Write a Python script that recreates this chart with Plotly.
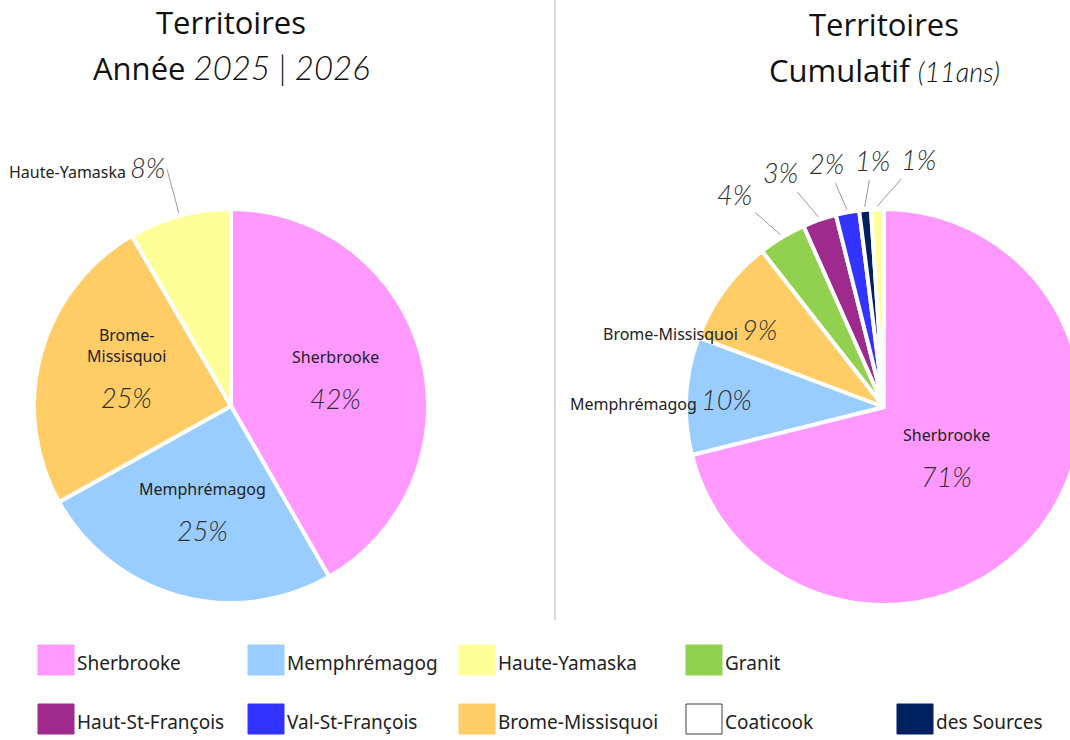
import math
import plotly.graph_objects as go

W, H = 1086, 740   # figure slightly wider than the window: right pie is cut like the reference

# ---------------- data ----------------
categories = ["Sherbrooke", "Memphrémagog", "Haute-Yamaska", "Granit",
              "Haut-St-François", "Val-St-François", "Brome-Missisquoi",
              "Coaticook", "des Sources"]
category_colors = ["#FF99FF", "#99CCFF", "#FFFF99", "#92D050",
                   "#9E2A8E", "#3333FF", "#FFCC66", "#FFFFFF", "#002060"]

year_labels = ["Sherbrooke", "Memphrémagog", "Brome-Missisquoi", "Haute-Yamaska"]
year_values = [41.7, 25.2, 24.7, 8.4]

cumul_labels = ["Sherbrooke", "Memphrémagog", "Brome-Missisquoi", "Granit",
                "Haut-St-François", "Val-St-François", "des Sources", "Haute-Yamaska"]
cumul_values = [71.0, 9.6, 8.7, 3.9, 2.75, 1.9, 0.95, 1.05]

color_of = dict(zip(categories, category_colors))

# ---------------- styling ----------------
NAME_FONT = dict(family="Noto Sans", size=16, color="#222222")
PCT_FONT = dict(family="Lato", size=27, color="#2E2E2E", weight=300, style="italic")
PCT_SPAN = ("<span style='font-family:Lato;font-size:27px;font-weight:300;"
            "font-style:italic;color:#2E2E2E'>{}</span>")
TITLE_FONT = dict(family="Open Sans", size=31, color="#111111")

left_dom = dict(x=[34 / W, 428 / W], y=[1 - 603 / H, 1 - 209 / H])
right_dom = dict(x=[686 / W, 1082 / W], y=[1 - 605 / H, 1 - 209 / H])


def geom(dom):
    w = W * (dom["x"][1] - dom["x"][0])
    h = H * (dom["y"][1] - dom["y"][0])
    r = min(w, h) / 2
    cx = W * (dom["x"][0] + dom["x"][1]) / 2
    cy = H * (1 - dom["y"][0]) - h / 2
    return cx, cy, r


def pt(cx, cy, rho, theta):
    t = math.radians(theta)
    return cx + rho * math.sin(t), cy - rho * math.cos(t)


def paper(px, py):
    return px / W, 1 - py / H


def spread(xs, gap):
    xs = list(xs)
    for _ in range(300):
        moved = False
        for i in range(1, len(xs)):
            d = xs[i] - xs[i - 1]
            if d < gap - 1e-6:
                m = (gap - d) / 2
                xs[i - 1] -= m
                xs[i] += m
                moved = True
        if not moved:
            break
    return xs


fig = go.Figure()
annotations = []
shapes = []


def ann(px, py, text, font, xanchor="center", yanchor="middle", **kw):
    x, y = paper(px, py)
    d = dict(x=x, y=y, xref="paper", yref="paper", text=text, font=font,
             showarrow=False, xanchor=xanchor, yanchor=yanchor)
    d.update(kw)
    annotations.append(d)


def add_pie(labels, values, dom, edge_min, leader_names, leader_anchor, leader_gap,
            inside_rho):
    fig.add_trace(go.Pie(
        labels=labels, values=values, domain=dom, sort=False,
        direction="clockwise", rotation=0, textinfo="none",
        hoverinfo="label+percent", showlegend=False,
        marker=dict(colors=[color_of[l] for l in labels],
                    line=dict(color="white", width=4)),
    ))
    cx, cy, r = geom(dom)
    tot = sum(values)
    cum = 0.0
    leaders = []
    for lab, v in zip(labels, values):
        f = v / tot
        mid = 360 * (cum + f / 2)
        cum += f
        pct = f"{round(100 * f)}%"
        if f >= 0.15:
            px, py = pt(cx, cy, inside_rho * r, mid)
            name = lab
            if len(lab) > 13 and "-" in lab:
                i = lab.index("-") + 1
                name = lab[:i] + "<br>" + lab[i:]
            ann(px, py, name, NAME_FONT, yanchor="bottom", yshift=8)
            ann(px, py, pct, PCT_FONT, yanchor="top", yshift=-2)
        elif f >= edge_min:
            px, py = pt(cx, cy, 0.66 * r, mid)
            ann(px, py, f"{lab} " + PCT_SPAN.format(pct), NAME_FONT, xanchor="right")
        else:
            leaders.append((lab, pct, mid))

    if leaders:
        tails = [pt(cx, cy, r + 50, m) for _, _, m in leaders]
        txs = spread([t[0] for t in tails], leader_gap)
        for (lab, pct, mid), tx, (_, ty) in zip(leaders, txs, tails):
            hx, hy = pt(cx, cy, r + 3, mid)
            text = f"{lab} " + PCT_SPAN.format(pct) if leader_names else PCT_SPAN.format(pct)
            ann(hx, hy, text, NAME_FONT, xanchor=leader_anchor,
                showarrow=True, arrowhead=0, arrowwidth=1, arrowcolor="#9A9A9A",
                standoff=0, startstandoff=2, ax=tx - hx, ay=ty - hy)


add_pie(year_labels, year_values, left_dom, edge_min=1.0, leader_names=True,
        leader_anchor="right", leader_gap=44, inside_rho=0.55)
add_pie(cumul_labels, cumul_values, right_dom, edge_min=0.05, leader_names=False,
        leader_anchor="center", leader_gap=46, inside_rho=0.4)

# ---------------- titles ----------------
NUM_SPAN = "<span style='font-family:Lato;font-weight:300;font-style:italic;font-size:{}px'>{}</span>"
ann(231, 22, "Territoires", TITLE_FONT)
ann(231, 68, "Année " + NUM_SPAN.format(33, "2025 | 2026"), TITLE_FONT)
ann(884, 24, "Territoires", TITLE_FONT)
ann(884, 70, "Cumulatif " + NUM_SPAN.format(27, "(11ans)"), TITLE_FONT)

# separator
shapes.append(dict(type="line", xref="paper", yref="paper",
                   x0=555 / W, x1=555 / W, y0=1 - 620 / H, y1=1.0,
                   line=dict(color="#D9D9D9", width=2)))

# ---------------- legend (manual, large swatches) ----------------
col_x = [38, 248, 459, 686, 897]
row_y = [645, 704]
for i, (cat, col) in enumerate(zip(categories, category_colors)):
    row = 0 if i < 4 else 1
    c = i if i < 4 else i - 4
    x0, y0 = col_x[c], row_y[row]
    x1, y1 = x0 + 36, y0 + 30
    white = col.upper() == "#FFFFFF"
    shapes.append(dict(type="rect", xref="paper", yref="paper",
                       x0=x0 / W, x1=x1 / W, y0=1 - y1 / H, y1=1 - y0 / H,
                       fillcolor=col,
                       line=dict(color="#404040" if white else col, width=1)))
    ann(x1 + 1, (y0 + y1) / 2 + 3, cat,
        dict(family="Noto Sans", size=19, color="#222222"), xanchor="left")

fig.update_layout(
    width=W, height=H, autosize=False,
    margin=dict(l=0, r=0, t=0, b=0),
    paper_bgcolor="white", plot_bgcolor="white",
    annotations=annotations, shapes=shapes,
)

fig.write_html("out.html", config={"displayModeBar": False},
               post_script="document.body.style.margin='0';"
                           "document.body.style.overflow='hidden';"
                           "document.documentElement.style.overflow='hidden';")
